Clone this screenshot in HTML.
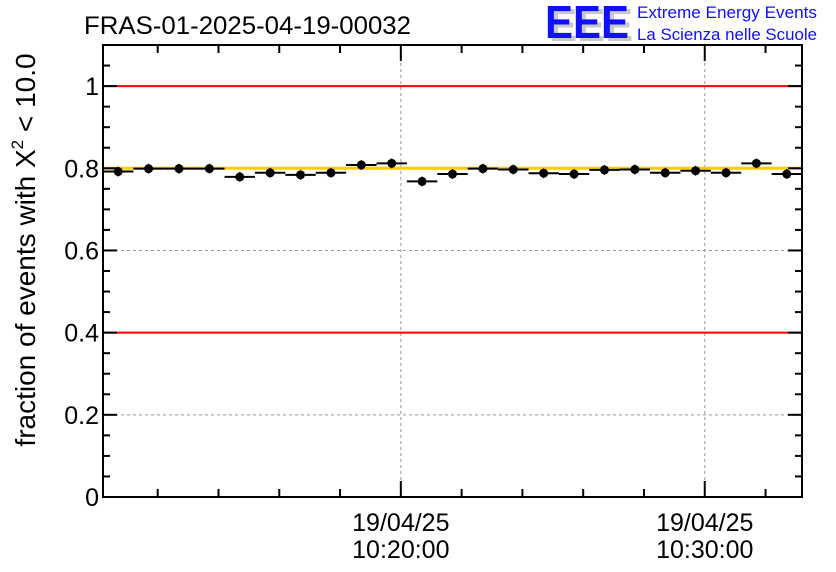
<!DOCTYPE html>
<html><head><meta charset="utf-8"><style>
html,body{margin:0;padding:0;background:#fff;}
svg{display:block;font-family:"Liberation Sans",Arial,sans-serif;}
</style></head><body>
<svg id="chart" width="836" height="572" viewBox="0 0 836 572">
<rect width="836" height="572" fill="#fff"/>
<text x="84" y="34" font-size="25" fill="#000" textLength="327" lengthAdjust="spacingAndGlyphs">FRAS-01-2025-04-19-00032</text>
<g>
<text x="549" y="41" font-size="46" font-weight="bold" fill="#c8c8c8" textLength="84" lengthAdjust="spacingAndGlyphs">EEE</text>
<text x="545" y="38" font-size="46" font-weight="bold" fill="#1010ff" textLength="84" lengthAdjust="spacingAndGlyphs">EEE</text>
<text x="637" y="18" font-size="17" fill="#1010ff" textLength="180" lengthAdjust="spacingAndGlyphs">Extreme Energy Events</text>
<text x="637" y="40" font-size="17" fill="#1010ff" textLength="180" lengthAdjust="spacingAndGlyphs">La Scienza nelle Scuole</text>
</g>
<text transform="translate(35,250) rotate(-90)" text-anchor="middle" font-size="28" fill="#000">fraction of events with X<tspan dy="-12" font-size="17">2</tspan><tspan dy="12"> &lt; 10.0</tspan></text>
<g id="grid"></g>
<g id="refs"></g>
<g id="marks"></g>
<g id="axes"></g>
</svg>
<script>
const values = [0.792,0.799,0.799,0.799,0.779,0.789,0.784,0.789,0.808,0.812,0.768,0.786,0.799,0.797,0.788,0.786,0.796,0.797,0.789,0.794,0.789,0.812,0.786];
const binStartMin = 10.2;
const binWidthMin = 1;
const yTicks = [0,0.2,0.4,0.6,0.8,1];
const yTickLabels = ["0","0.2","0.4","0.6","0.8","1"];
const xTickMinutes = [20,30];
const xTickLabels = [["19/04/25","10:20:00"],["19/04/25","10:30:00"]];
const refLines = [1.0,0.4];
const targetLine = [0.8];

const L=103,R=802,T=45,B=497;
const xMin=10.2,xMax=33.2,yMin=0,yMax=1.1;
const X=m=>L+(m-xMin)/(xMax-xMin)*(R-L);
const Y=v=>B-(v-yMin)/(yMax-yMin)*(B-T);
const NS="http://www.w3.org/2000/svg";
function mk(tag,attrs,parent){const e=document.createElementNS(NS,tag);for(const k in attrs)e.setAttribute(k,attrs[k]);parent.appendChild(e);return e;}
const grid=document.getElementById('grid'),refs=document.getElementById('refs'),marks=document.getElementById('marks'),axes=document.getElementById('axes');

[0.2,0.6].forEach(v=>{const l=mk('line',{x1:L,x2:R,y1:Y(v),y2:Y(v),stroke:'#999','stroke-dasharray':'3,3','stroke-width':1},grid);

});
xTickMinutes.forEach(m=>{const l=mk('line',{x1:X(m),x2:X(m),y1:T,y2:B,stroke:'#999','stroke-dasharray':'3,3','stroke-width':1},grid);

});

refLines.forEach(v=>{const l=mk('line',{x1:L,x2:R,y1:Y(v),y2:Y(v),stroke:'#ff0000','stroke-width':2},refs);

});
targetLine.forEach(v=>{const l=mk('line',{x1:L,x2:R,y1:Y(v),y2:Y(v),stroke:'#ffcc00','stroke-width':3},refs);

});

values.forEach((v,i)=>{
 const a=binStartMin+i*binWidthMin,b=a+binWidthMin,c=(a+b)/2;
 const g=mk('g',{},marks);
 
 
 mk('line',{x1:X(a),x2:X(b),y1:Y(v),y2:Y(v),stroke:'#000','stroke-width':2},g);
 mk('line',{x1:X(c),x2:X(c),y1:Y(v)-5,y2:Y(v)+5,stroke:'#000','stroke-width':1},g);
 mk('circle',{cx:X(c),cy:Y(v),r:4.5,fill:'#000'},g);
});

const fr=mk('rect',{x:L,y:T,width:R-L,height:B-T,fill:'none',stroke:'#000','stroke-width':2},axes);


for(let k=0;k<=22;k++){const v=k*0.05;const maj=Math.abs(v*5-Math.round(v*5))<1e-6;const len=maj?14:7;
 mk('line',{x1:L,x2:L+len,y1:Y(v),y2:Y(v),stroke:'#000','stroke-width':2},axes);
 mk('line',{x1:R,x2:R-len,y1:Y(v),y2:Y(v),stroke:'#000','stroke-width':2},axes);}
yTicks.forEach((v,i)=>{const t=mk('text',{x:L-4,y:Y(v)+9,'text-anchor':'end','font-size':25,fill:'#000'},axes);t.textContent=yTickLabels[i];
 
 });
for(let m=12;m<=33;m+=2){const maj=(m%10===0);const len=maj?16:8;
 mk('line',{x1:X(m),x2:X(m),y1:B,y2:B-len,stroke:'#000','stroke-width':2},axes);
 mk('line',{x1:X(m),x2:X(m),y1:T,y2:T+len,stroke:'#000','stroke-width':2},axes);}
xTickMinutes.forEach((m,i)=>{xTickLabels[i].forEach((s,j)=>{const t=mk('text',{x:X(m),y:531+j*27,'text-anchor':'middle','font-size':25,fill:'#000'},axes);t.textContent=s;
 
 });});
</script>
</body></html>
